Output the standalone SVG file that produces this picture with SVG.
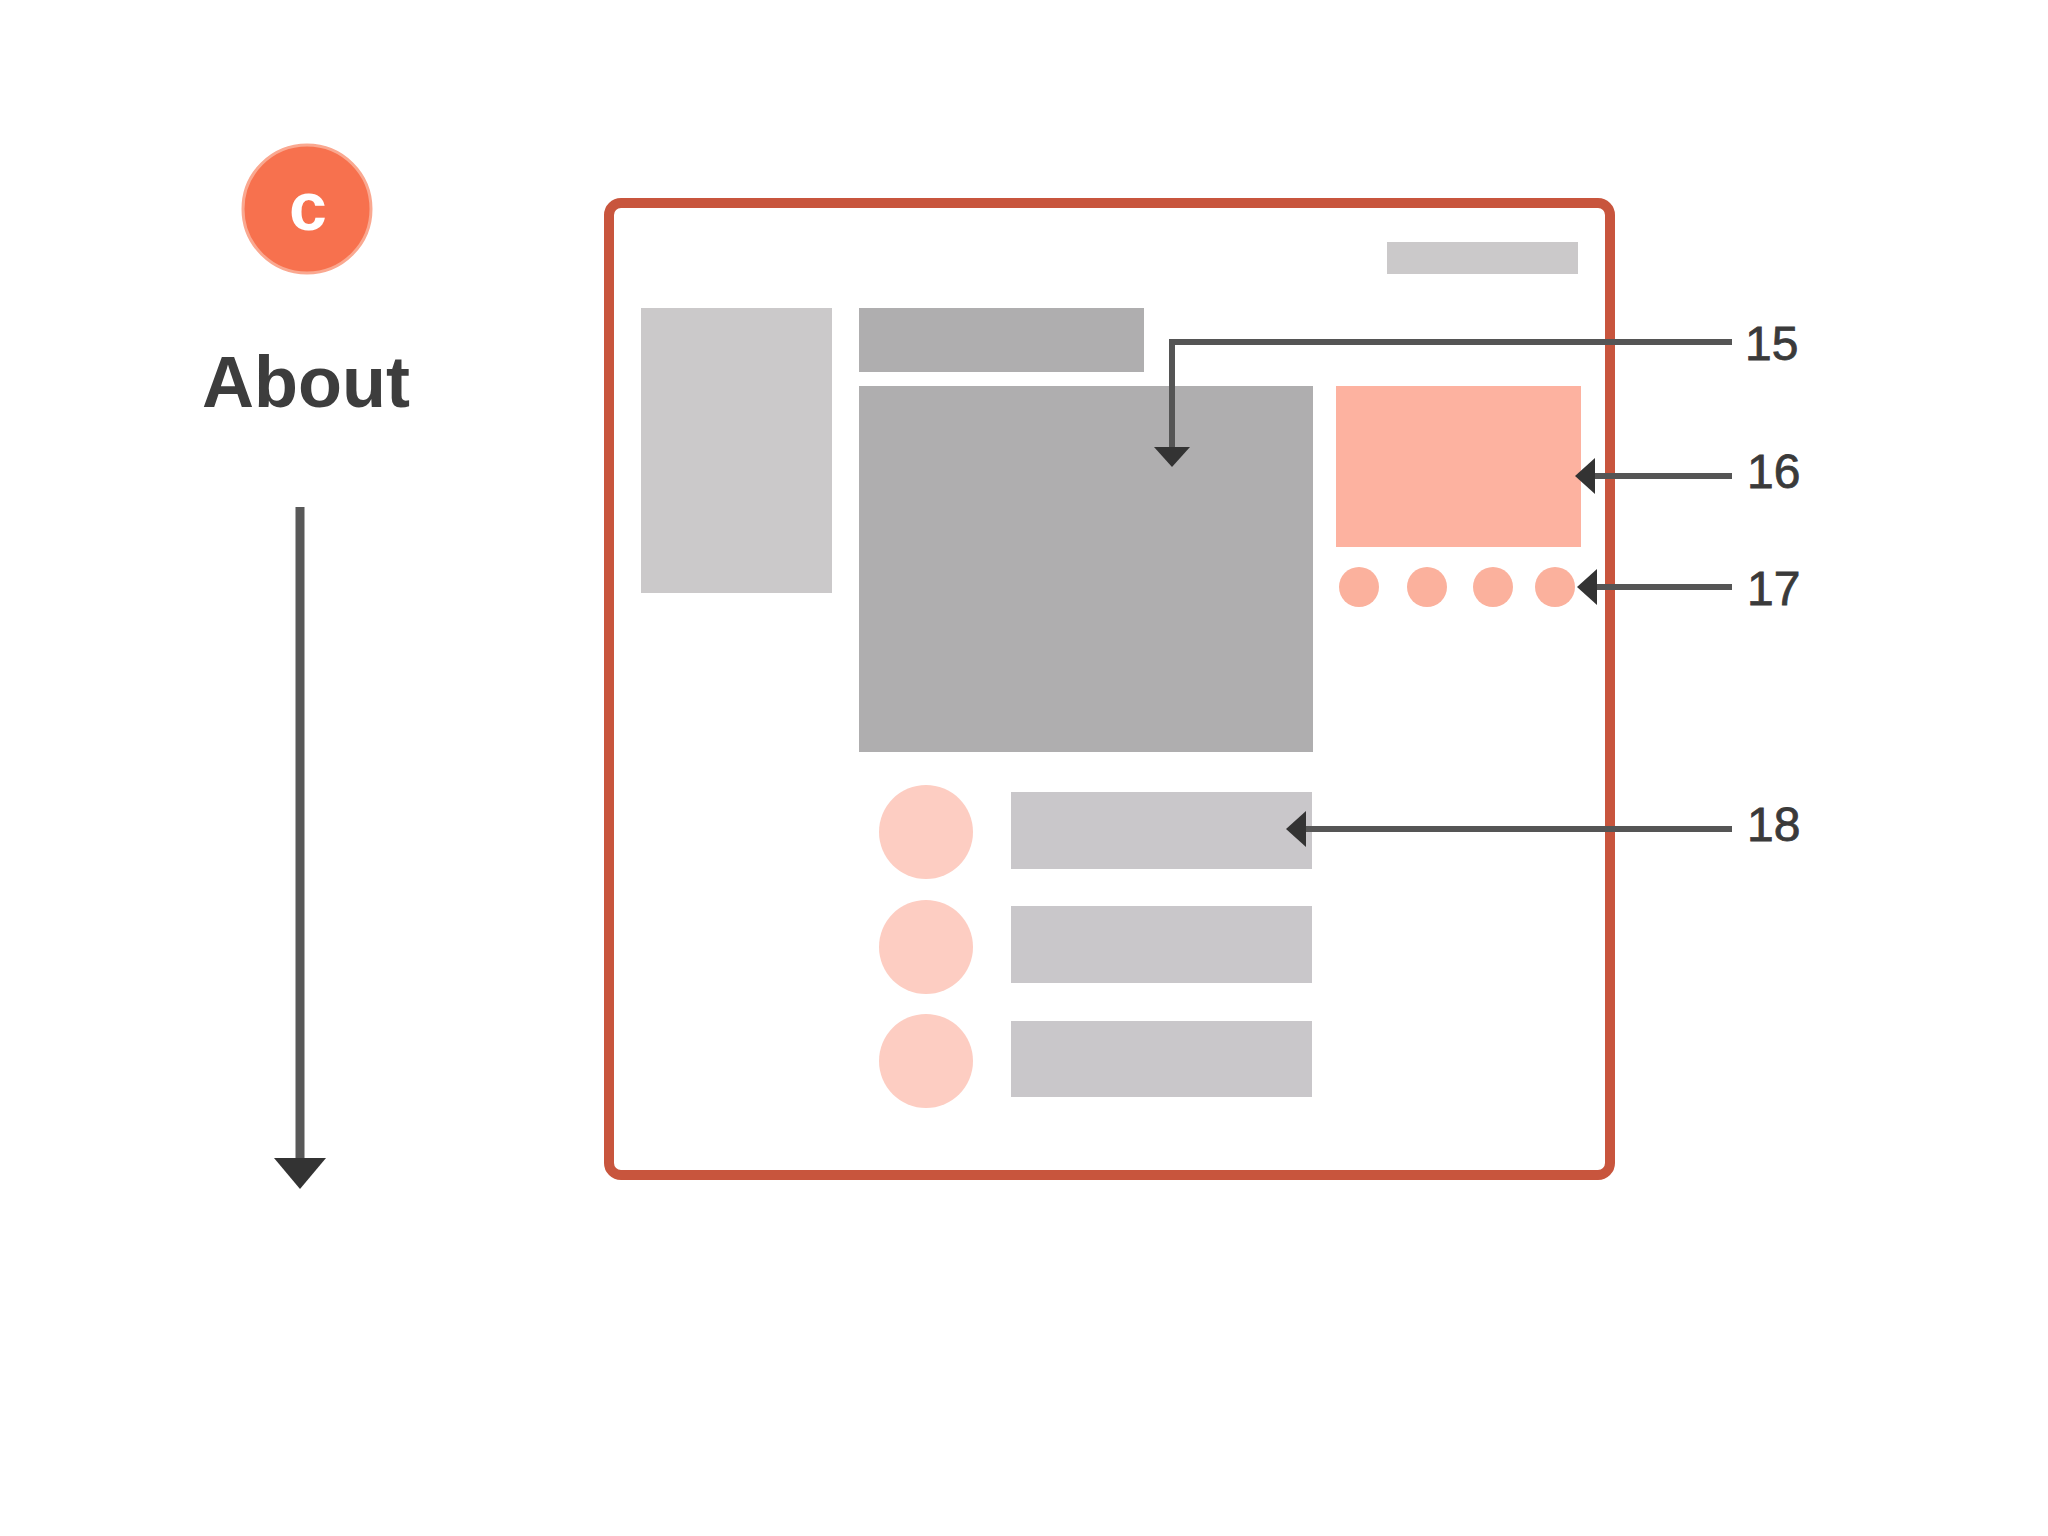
<svg xmlns="http://www.w3.org/2000/svg" width="2048" height="1536" viewBox="0 0 2048 1536">
  <style>
    .lite { fill: #CBC9CA; }
    .dark { fill: #AFAEAF; }
    .bar { fill: #C9C7CA; }
    .salmon { fill: #FDB2A0; }
    .dot { fill: #FBB19D; }
    .avatar { fill: #FDCDC2; }
    .conn { fill: none; stroke: #555555; stroke-width: 6; marker-end: url(#ah); }
    .label { font-family: "Liberation Sans", Arial, sans-serif; font-size: 48px; fill: #3A3A3A; stroke: #3A3A3A; stroke-width: 0.8; }
  </style>
  <defs>
    <marker id="ah" viewBox="0 0 20 36" refX="0" refY="18" markerWidth="20" markerHeight="36" markerUnits="userSpaceOnUse" orient="auto">
      <path d="M0,0 L20,18 L0,36 Z" fill="#333333"/>
    </marker>
    <marker id="ahBig" viewBox="0 0 31 52" refX="0" refY="26" markerWidth="31" markerHeight="52" markerUnits="userSpaceOnUse" orient="auto">
      <path d="M0,0 L31,26 L0,52 Z" fill="#333333"/>
    </marker>
  </defs>
  <rect x="0" y="0" width="2048" height="1536" fill="#FFFFFF"/>

  <g id="badge">
    <circle cx="307" cy="209" r="64" fill="#F7714E" stroke="#FAA890" stroke-width="3"/>
    <text x="308" y="230" text-anchor="middle" font-family="Liberation Sans, Arial, sans-serif" font-size="68" font-weight="bold" fill="#FFFFFF">c</text>
  </g>
  <g id="title">
    <text x="306" y="407" text-anchor="middle" font-family="Liberation Sans, Arial, sans-serif" font-size="72" font-weight="bold" fill="#3D3D3D">About</text>
  </g>

  <g id="page-frame">
    <rect x="609" y="203" width="1001" height="972" rx="12" ry="12" fill="#FFFFFF" stroke="#C8553D" stroke-width="10"/>
  </g>
  <g id="top-right-bar"><rect class="lite" x="1387" y="242" width="191" height="32"/></g>
  <g id="sidebar"><rect class="lite" x="641" y="308" width="191" height="285"/></g>
  <g id="header-bar"><rect class="dark" x="859" y="308" width="285" height="64"/></g>
  <g id="main-content"><rect class="dark" x="859" y="386" width="454" height="366"/></g>
  <g id="feature-box"><rect class="salmon" x="1336" y="386" width="245" height="161"/></g>
  <g id="dots">
    <circle class="dot" cx="1359" cy="587" r="20"/>
    <circle class="dot" cx="1427" cy="587" r="20"/>
    <circle class="dot" cx="1493" cy="587" r="20"/>
    <circle class="dot" cx="1555" cy="587" r="20"/>
  </g>
  <g id="list-item-1">
    <circle class="avatar" cx="926" cy="832" r="47"/>
    <rect class="bar" x="1011" y="792" width="301" height="77"/>
  </g>
  <g id="list-item-2">
    <circle class="avatar" cx="926" cy="947" r="47"/>
    <rect class="bar" x="1011" y="906" width="301" height="77"/>
  </g>
  <g id="list-item-3">
    <circle class="avatar" cx="926" cy="1061" r="47"/>
    <rect class="bar" x="1011" y="1021" width="301" height="76"/>
  </g>

  <g id="connectors">
    <path d="M300,507 V1158" fill="none" stroke="#585858" stroke-width="9" marker-end="url(#ahBig)"/>
    <path class="conn" d="M1732,342 H1172 V447"/>
    <path class="conn" d="M1732,476 H1595"/>
    <path class="conn" d="M1732,587 H1597"/>
    <path class="conn" d="M1732,829 H1306"/>
  </g>

  <g id="labels">
    <text class="label" x="1745" y="360">15</text>
    <text class="label" x="1747" y="488">16</text>
    <text class="label" x="1747" y="605">17</text>
    <text class="label" x="1747" y="841">18</text>
  </g>
</svg>
